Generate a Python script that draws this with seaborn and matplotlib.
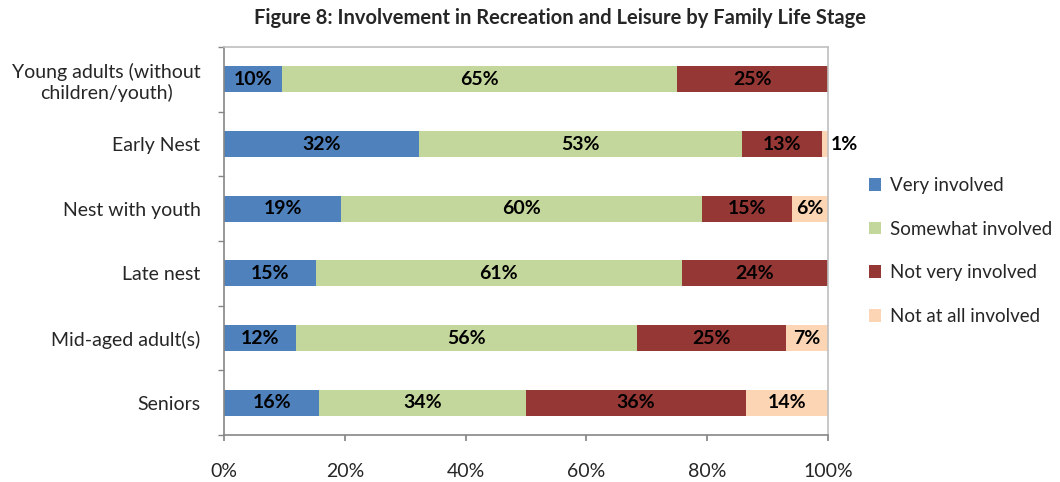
import numpy as np
import pandas as pd
import matplotlib
matplotlib.use("Agg")
import matplotlib.pyplot as plt
import seaborn as sns
from matplotlib.patches import Patch

# data (percent)
stages = ["Young adults (without\nchildren/youth)", "Early Nest", "Nest with youth",
          "Late nest", "Mid-aged adult(s)", "Seniors"]
very_involved = [9.6, 32.3, 19.4, 15.2, 11.9, 15.8]
somewhat_involved = [65.4, 53.4, 59.7, 60.6, 56.5, 34.2]
not_very_involved = [25.0, 13.3, 14.9, 24.2, 24.6, 36.4]
not_at_all_involved = [0.0, 1.0, 6.0, 0.0, 7.0, 13.6]
series_names = ["Very involved", "Somewhat involved", "Not very involved", "Not at all involved"]
colors = ["#4F81BD", "#C3D69B", "#953735", "#FCD5B4"]

sns.set_theme(style="white")
plt.rcParams['font.family'] = ['Lato', 'DejaVu Sans']

df = pd.DataFrame({
    "stage": stages,
    series_names[0]: very_involved,
    series_names[1]: somewhat_involved,
    series_names[2]: not_very_involved,
    series_names[3]: not_at_all_involved,
})
cum = df[series_names].cumsum(axis=1)

fig = plt.figure(figsize=(10.6, 4.82), dpi=100)
ax = fig.add_axes([224 / 1060, 1 - 435 / 482, 604 / 1060, 388 / 482])

# stacked bars: draw cumulative totals from the back to the front
for name, col in reversed(list(zip(series_names, colors))):
    sns.barplot(x=cum[name], y=df["stage"], color=col, width=0.4,
                orient="h", ax=ax, saturation=1, edgecolor="none")

# segment labels
for i in range(len(stages)):
    left = 0
    for name in series_names:
        v = df[name].iloc[i]
        if v > 0:
            txt = f"{round(v):.0f}%"
            if v < 3:
                ax.text(left + v + 0.5, i, txt, ha="left", va="center",
                        fontsize=14, fontweight="bold", color="black")
            else:
                ax.text(left + v / 2, i, txt, ha="center", va="center",
                        fontsize=14, fontweight="bold", color="black")
        left += v

ax.set_xlim(0, 100)
ax.set_ylim(len(stages) - 0.5, -0.5)
ax.set_xticks(np.arange(0, 101, 20))
ax.set_xticklabels([f"{t}%" for t in range(0, 101, 20)])
ax.set_xlabel("")
ax.set_ylabel("")
ax.tick_params(axis="x", bottom=True, length=4.5, color="#868686", pad=16, labelsize=14)
ax.tick_params(axis="y", left=False, length=0, pad=17, labelsize=14)
ax.set_yticks(np.arange(-0.5, len(stages), 1), minor=True)
ax.tick_params(axis="y", which="minor", left=True, length=4, color="#868686")
for lab in ax.get_yticklabels():
    lab.set_multialignment("center")

for side in ["left", "bottom"]:
    ax.spines[side].set_color("#868686")
    ax.spines[side].set_linewidth(1.2)
for side in ["top", "right"]:
    ax.spines[side].set_color("#BFBFBF")
    ax.spines[side].set_linewidth(1.2)

handles = [Patch(facecolor=c, edgecolor="none") for c in colors]
fig.legend(handles, series_names, loc="center left", bbox_to_anchor=(869 / 1060, 1 - 251 / 482),
           frameon=False, fontsize=13.5, handlelength=0.65, handleheight=0.65,
           handletextpad=0.45, labelspacing=1.42, borderpad=0, borderaxespad=0)

fig.suptitle("Figure 8: Involvement in Recreation and Leisure by Family Life Stage",
             x=560 / 1060, y=1 - 18 / 482, va="center", fontsize=14.5, fontweight="bold")

fig.savefig("out.png", dpi=100)
